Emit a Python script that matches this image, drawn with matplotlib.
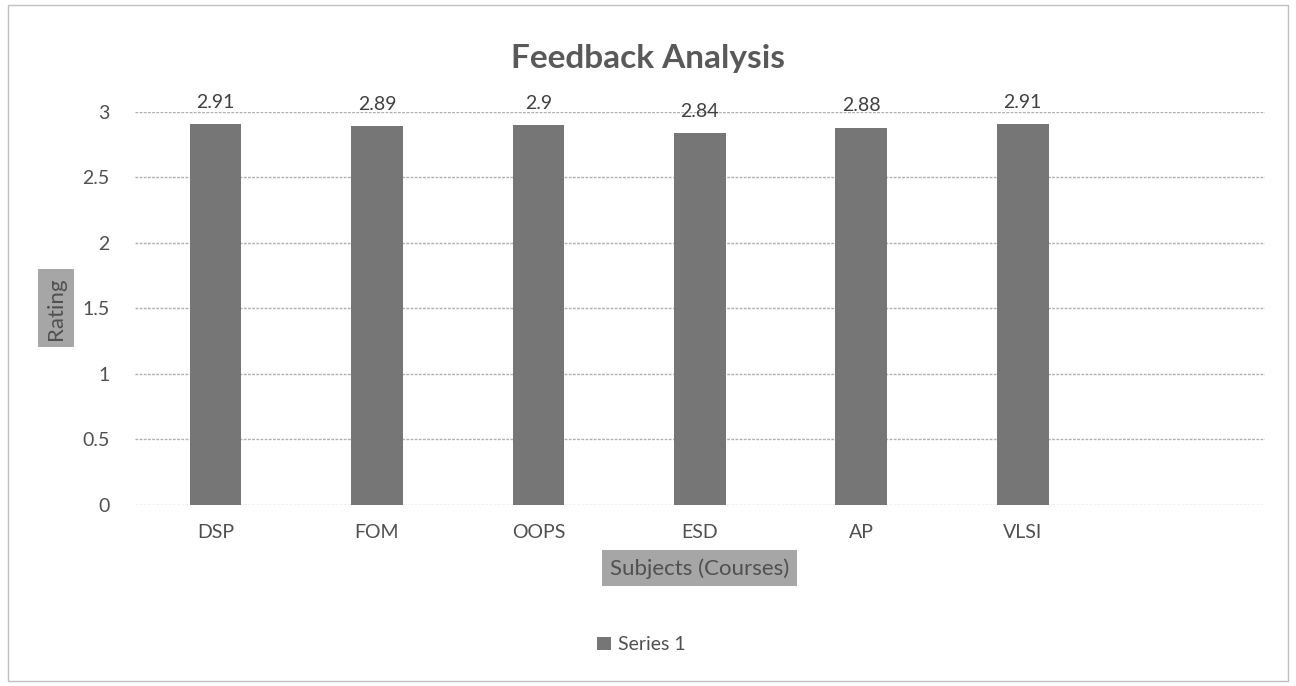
import numpy as np
import matplotlib.pyplot as plt
from matplotlib.patches import Rectangle

# ---------- Data ----------
subjects = ['DSP', 'FOM', 'OOPS', 'ESD', 'AP', 'VLSI']
ratings = [2.91, 2.89, 2.9, 2.84, 2.88, 2.91]
y_ticks = [0, 0.5, 1, 1.5, 2, 2.5, 3]

plt.rcParams['font.family'] = ['Lato', 'DejaVu Sans']

fig = plt.figure(figsize=(12.96, 6.86), dpi=100)
ax = fig.add_axes([0.104, 0.264, 0.872, 0.573])

x = np.arange(len(subjects))
bars = ax.bar(x, ratings, width=0.32, color='#767676', label='Series 1', zorder=3)
for xi, v in zip(x, ratings):
    ax.text(xi, v + 0.1, f'{v:g}', ha='center', va='bottom', fontsize=14, color='#404040')

ax.set_xlim(-0.5, 6.5)
ax.set_ylim(0, 3)
ax.set_yticks(y_ticks)
ax.set_yticklabels([f'{t:g}' for t in y_ticks])
ax.set_xticks(x)
ax.set_xticklabels(subjects)
ax.tick_params(axis='both', length=0, labelsize=14, labelcolor='#505050')
ax.tick_params(axis='y', pad=18)
ax.tick_params(axis='x', pad=14)
ax.grid(axis='y', color='#b0b0b0', linewidth=1, linestyle=(0, (2, 1)), zorder=0)
for s in ax.spines.values():
    s.set_visible(False)

fig.text(0.5, 0.915, 'Feedback Analysis', ha='center', va='center', fontsize=24,
         fontweight='bold', color='#595959')

ax.set_ylabel('Rating', fontsize=16, color='#505050', labelpad=12,
              bbox=dict(boxstyle='square,pad=0.35', facecolor='#a6a6a6', edgecolor='none'))
ax.set_xlabel('Subjects (Courses)', fontsize=16, color='#505050', labelpad=12,
              bbox=dict(boxstyle='square,pad=0.35', facecolor='#a6a6a6', edgecolor='none'))

fig.legend(handles=[bars], labels=['Series 1'], loc='center', bbox_to_anchor=(0.495, 0.06),
           frameon=False, fontsize=14, handlelength=0.7, handleheight=0.7, handletextpad=0.4,
           labelcolor='#505050')

fig.patches.append(Rectangle((0.006, 0.008), 0.988, 0.985, transform=fig.transFigure,
                             fill=False, edgecolor='#c0c0c0', linewidth=1))

plt.savefig('out.png', dpi=100)
